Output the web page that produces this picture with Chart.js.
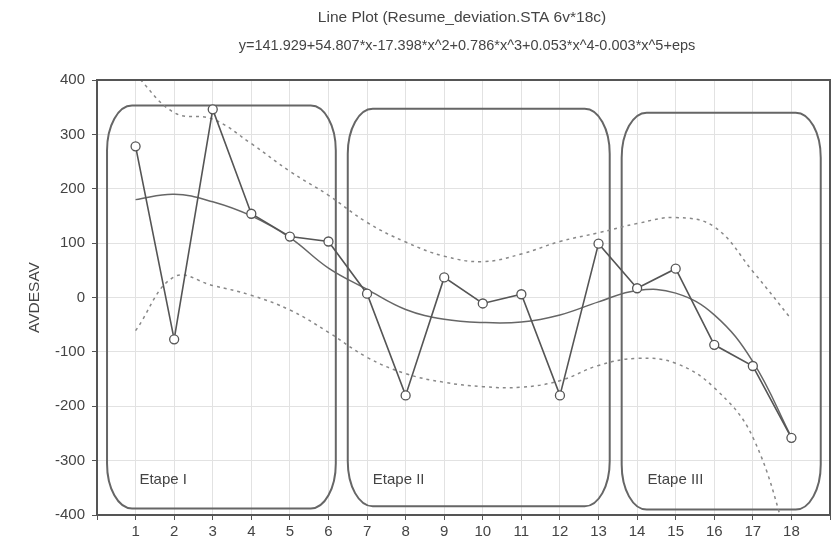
<!DOCTYPE html>
<html>
<head>
<meta charset="utf-8">
<script src="https://cdn.jsdelivr.net/npm/chart.js@4.4.1/dist/chart.umd.min.js"></script>
<style>
  body { margin: 0; background: #fff; }
</style>
</head>
<body>
<canvas id="lineplot" width="838" height="550"></canvas>
<script>
// values
const cases = [1, 2, 3, 4, 5, 6, 7, 8, 9, 10, 11, 12, 13, 14, 15, 16, 17, 18];
const avdesav = [278, -77, 346, 154, 112, 103, 7, -180, 37, -11, 6, -180, 99, 17, 53, -87, -126, -258];
const fitted = [180, 190, 176, 150, 110, 54, 15, -22, -40, -46, -45, -32, -8, 13, 8, -32, -118, -257];
const upperBand = [410, 340, 328, 283, 232, 188, 138, 102, 76, 66, 80, 103, 119, 136, 147, 130, 48, -40];
const lowerBand = [-61, 38, 22, 4, -23, -64, -110, -140, -156, -164, -165, -153, -125, -112, -121, -166, -257, -470];
const yTicks = [-400, -300, -200, -100, 0, 100, 200, 300, 400];

// stage boxes (in axis units)
const stageNames = ['Etape I', 'Etape II', 'Etape III'];
const stageFrom = [0.26, 6.5, 13.6];
const stageTo = [6.19, 13.29, 18.76];
const stageTop = [353, 347, 340];
const stageBottom = [-388, -384, -390];
const stageLabelX = [1.1, 7.15, 14.27];
const stageLabelY = -336;

const titleText = 'Line Plot (Resume_deviation.STA 6v*18c)';
const subtitleText = 'y=141.929+54.807*x-17.398*x^2+0.786*x^3+0.053*x^4-0.003*x^5+eps';
const yTitle = 'AVDESAV';

const pts = arr => cases.map((x, i) => ({ x: x, y: arr[i] }));
const FONT = '"Liberation Sans", Arial, sans-serif';

function roundBox(ctx, x0, y0, x1, y1, rx, ry) {
    const k = 0.5523;
    ctx.beginPath();
    ctx.moveTo(x0 + rx, y0);
    ctx.lineTo(x1 - rx, y0);
    ctx.bezierCurveTo(x1 - rx + rx * k, y0, x1, y0 + ry - ry * k, x1, y0 + ry);
    ctx.lineTo(x1, y1 - ry);
    ctx.bezierCurveTo(x1, y1 - ry + ry * k, x1 - rx + rx * k, y1, x1 - rx, y1);
    ctx.lineTo(x0 + rx, y1);
    ctx.bezierCurveTo(x0 + rx - rx * k, y1, x0, y1 - ry + ry * k, x0, y1 - ry);
    ctx.lineTo(x0, y0 + ry);
    ctx.bezierCurveTo(x0, y0 + ry - ry * k, x0 + rx - rx * k, y0, x0 + rx, y0);
    ctx.closePath();
}

const stagesPlugin = {
    id: 'stages',
    beforeDatasetsDraw(chart) {
        const ctx = chart.ctx, xs = chart.scales.x, ys = chart.scales.y;
        ctx.save();
        ctx.strokeStyle = '#666';
        ctx.lineWidth = 2;
        stageNames.forEach((name, i) => {
            roundBox(ctx,
                xs.getPixelForValue(stageFrom[i]), ys.getPixelForValue(stageTop[i]),
                xs.getPixelForValue(stageTo[i]), ys.getPixelForValue(stageBottom[i]),
                25, 45);
            ctx.stroke();
            ctx.fillStyle = '#444';
            ctx.font = '15px ' + FONT;
            ctx.textBaseline = 'middle';
            ctx.textAlign = 'left';
            ctx.fillText(name, xs.getPixelForValue(stageLabelX[i]), ys.getPixelForValue(stageLabelY));
        });
        ctx.restore();
    },
    afterDraw(chart) {
        const ctx = chart.ctx, a = chart.chartArea;
        ctx.save();
        // frame around the plot
        ctx.strokeStyle = '#555';
        ctx.lineWidth = 2;
        ctx.strokeRect(a.left, a.top, a.right - a.left, a.bottom - a.top);
        // titles
        ctx.fillStyle = '#444';
        ctx.textAlign = 'center';
        ctx.textBaseline = 'middle';
        ctx.font = '15.5px ' + FONT;
        ctx.fillText(titleText, 462, 18);
        ctx.font = '14.5px ' + FONT;
        ctx.fillText(subtitleText, 467, 46);
        // y axis title
        ctx.translate(35, (a.top + a.bottom) / 2);
        ctx.rotate(-Math.PI / 2);
        ctx.font = '15.5px ' + FONT;
        ctx.fillText(yTitle, 0, 0);
        ctx.restore();
    }
};

const chart = new Chart(document.getElementById('lineplot'), {
    type: 'line',
    data: {
        datasets: [
            {
                label: 'AVDESAV',
                data: pts(avdesav),
                borderColor: '#555',
                borderWidth: 1.6,
                tension: 0,
                pointRadius: 4.5,
                pointBackgroundColor: '#fff',
                pointBorderColor: '#555',
                pointBorderWidth: 1.3
            },
            {
                label: 'fit',
                data: pts(fitted),
                borderColor: '#666',
                borderWidth: 1.5,
                tension: 0.4,
                pointRadius: 0
            },
            {
                label: 'upper',
                data: pts(upperBand),
                borderColor: '#888',
                borderWidth: 1.5,
                borderDash: [3, 4],
                tension: 0.4,
                pointRadius: 0
            },
            {
                label: 'lower',
                data: pts(lowerBand),
                borderColor: '#888',
                borderWidth: 1.5,
                borderDash: [3, 4],
                tension: 0.4,
                pointRadius: 0
            }
        ]
    },
    options: {
        responsive: false,
        animation: false,
        layout: { padding: { top: 80, right: 8, left: 0, bottom: 0 } },
        plugins: {
            legend: { display: false },
            tooltip: { enabled: false }
        },
        scales: {
            x: {
                type: 'linear',
                min: 0,
                max: 19,
                afterFit: s => { s.height = 35; },
                afterBuildTicks: s => { s.ticks = [0].concat(cases, [19]).map(v => ({ value: v })); },
                ticks: {
                    color: '#444',
                    font: { family: FONT, size: 15 },
                    padding: 3,
                    maxRotation: 0,
                    autoSkip: false,
                    callback: v => (v >= 1 && v <= 18) ? v : ''
                },
                grid: { color: '#e2e2e2', tickColor: '#555', tickLength: 5 },
                border: { color: '#555', width: 2 }
            },
            y: {
                min: -400,
                max: 400,
                afterFit: s => { s.width = 97; },
                afterBuildTicks: s => { s.ticks = yTicks.map(v => ({ value: v })); },
                ticks: {
                    color: '#444',
                    font: { family: FONT, size: 15 },
                    padding: 7
                },
                grid: { color: '#e2e2e2', tickColor: '#555', tickLength: 5 },
                border: { color: '#555', width: 2 }
            }
        }
    },
    plugins: [stagesPlugin]
});
</script>
</body>
</html>
